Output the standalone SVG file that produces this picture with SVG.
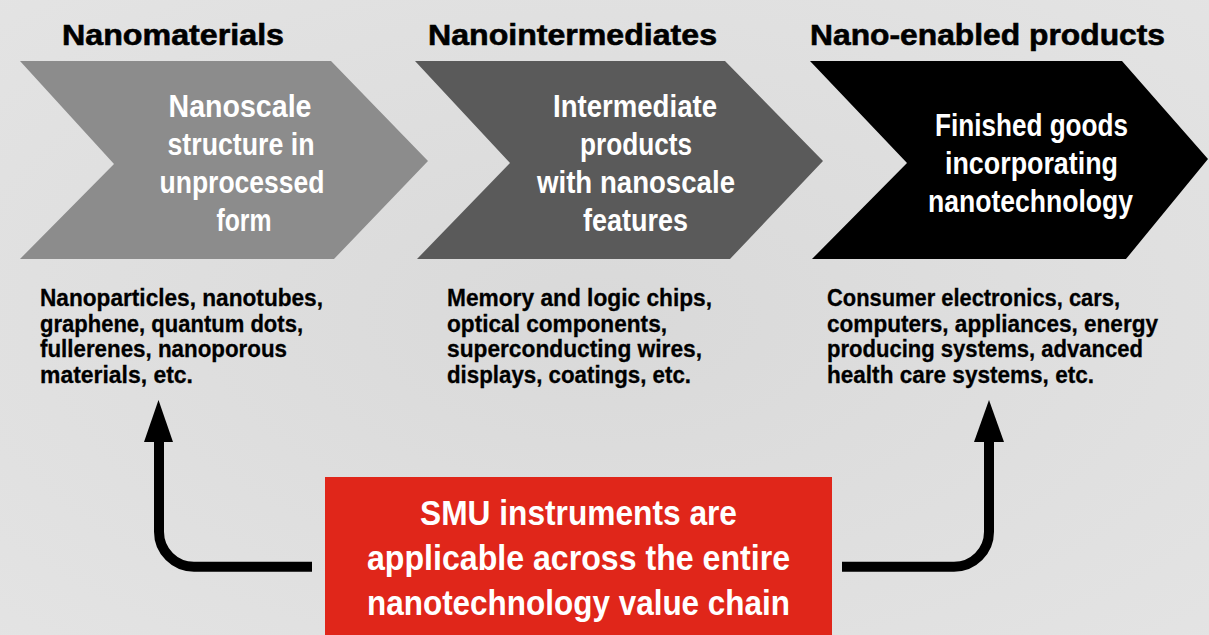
<svg xmlns="http://www.w3.org/2000/svg" width="1209" height="635" viewBox="0 0 1209 635">
<defs>
<style>
text{font-family:"Liberation Sans",Arial,sans-serif;font-weight:bold}
.h{font-size:30px;fill:#000;stroke:#000;stroke-width:0.6}
.c{font-size:31px;fill:#fff;text-anchor:middle}
.b{font-size:24.5px;fill:#000;stroke:#000;stroke-width:0.3}
.r{font-size:35px;fill:#fff;text-anchor:middle}
.conn{fill:none;stroke:#000;stroke-width:10}
</style>
<radialGradient id="bg" cx="0.5" cy="0.5" r="0.75">
<stop offset="0" stop-color="#d9d9d9"/>
<stop offset="1" stop-color="#e4e4e4"/>
</radialGradient>
</defs>
<rect width="1209" height="635" fill="url(#bg)"/>

<g id="node-nanomaterials">
<text class="h" x="62" y="44.5" textLength="222" lengthAdjust="spacingAndGlyphs">Nanomaterials</text>
<polygon points="20,61 331,61 428,161 334,259 20,259 114,164" fill="#8c8c8c"/>
<text class="c" y="117" x="240" textLength="143" lengthAdjust="spacingAndGlyphs">Nanoscale</text>
<text class="c" y="155" x="241" textLength="147" lengthAdjust="spacingAndGlyphs">structure in</text>
<text class="c" y="193" x="242" textLength="165" lengthAdjust="spacingAndGlyphs">unprocessed</text>
<text class="c" y="231" x="244" textLength="55" lengthAdjust="spacingAndGlyphs">form</text>
<text class="b" x="40" y="306" textLength="283" lengthAdjust="spacingAndGlyphs">Nanoparticles, nanotubes,</text>
<text class="b" x="40" y="331.5" textLength="263" lengthAdjust="spacingAndGlyphs">graphene, quantum dots,</text>
<text class="b" x="40" y="357" textLength="247" lengthAdjust="spacingAndGlyphs">fullerenes, nanoporous</text>
<text class="b" x="40" y="382.5" textLength="153" lengthAdjust="spacingAndGlyphs">materials, etc.</text>
</g>

<g id="node-nanointermediates">
<text class="h" x="428" y="44.5" textLength="289" lengthAdjust="spacingAndGlyphs">Nanointermediates</text>
<polygon points="415,61 725,61 823,161 730,259 417,259 510,163" fill="#5a5a5a"/>
<text class="c" y="117" x="635" textLength="164" lengthAdjust="spacingAndGlyphs">Intermediate</text>
<text class="c" y="155" x="636" textLength="112" lengthAdjust="spacingAndGlyphs">products</text>
<text class="c" y="193" x="636" textLength="198" lengthAdjust="spacingAndGlyphs">with nanoscale</text>
<text class="c" y="231" x="635.5" textLength="105" lengthAdjust="spacingAndGlyphs">features</text>
<text class="b" x="447" y="306" textLength="265" lengthAdjust="spacingAndGlyphs">Memory and logic chips,</text>
<text class="b" x="447" y="331.5" textLength="220" lengthAdjust="spacingAndGlyphs">optical components,</text>
<text class="b" x="447" y="357" textLength="255" lengthAdjust="spacingAndGlyphs">superconducting wires,</text>
<text class="b" x="447" y="382.5" textLength="244" lengthAdjust="spacingAndGlyphs">displays, coatings, etc.</text>
</g>

<g id="node-nano-enabled">
<text class="h" x="810" y="44.5" textLength="355" lengthAdjust="spacingAndGlyphs">Nano-enabled products</text>
<polygon points="810,61 1122,61 1208,159 1126,259 812,259 907,163" fill="#000"/>
<text class="c" y="136" x="1031.5" textLength="193" lengthAdjust="spacingAndGlyphs">Finished goods</text>
<text class="c" y="174" x="1031.5" textLength="173" lengthAdjust="spacingAndGlyphs">incorporating</text>
<text class="c" y="212" x="1030.5" textLength="205" lengthAdjust="spacingAndGlyphs">nanotechnology</text>
<text class="b" x="827" y="306" textLength="293" lengthAdjust="spacingAndGlyphs">Consumer electronics, cars,</text>
<text class="b" x="827" y="331.5" textLength="331" lengthAdjust="spacingAndGlyphs">computers, appliances, energy</text>
<text class="b" x="827" y="357" textLength="316" lengthAdjust="spacingAndGlyphs">producing systems, advanced</text>
<text class="b" x="827" y="382.5" textLength="267" lengthAdjust="spacingAndGlyphs">health care systems, etc.</text>
</g>

<g id="node-smu">
<rect x="325" y="477" width="507" height="160" fill="#e0261a"/>
<text class="r" x="578.5" y="525" textLength="317" lengthAdjust="spacingAndGlyphs">SMU instruments are</text>
<text class="r" x="578.5" y="570" textLength="423" lengthAdjust="spacingAndGlyphs">applicable across the entire</text>
<text class="r" x="578.5" y="615" textLength="423" lengthAdjust="spacingAndGlyphs">nanotechnology value chain</text>
</g>

<g id="connectors">
<path class="conn" d="M312,566.7 H194 A35,35 0 0 1 159,531.7 V440"/>
<polygon points="158.5,400 173,442 144,442" fill="#000"/>
<path class="conn" d="M842,566.7 H954 A35,35 0 0 0 989,531.7 V440"/>
<polygon points="989,400 1004,442 974,442" fill="#000"/>
</g>
</svg>
